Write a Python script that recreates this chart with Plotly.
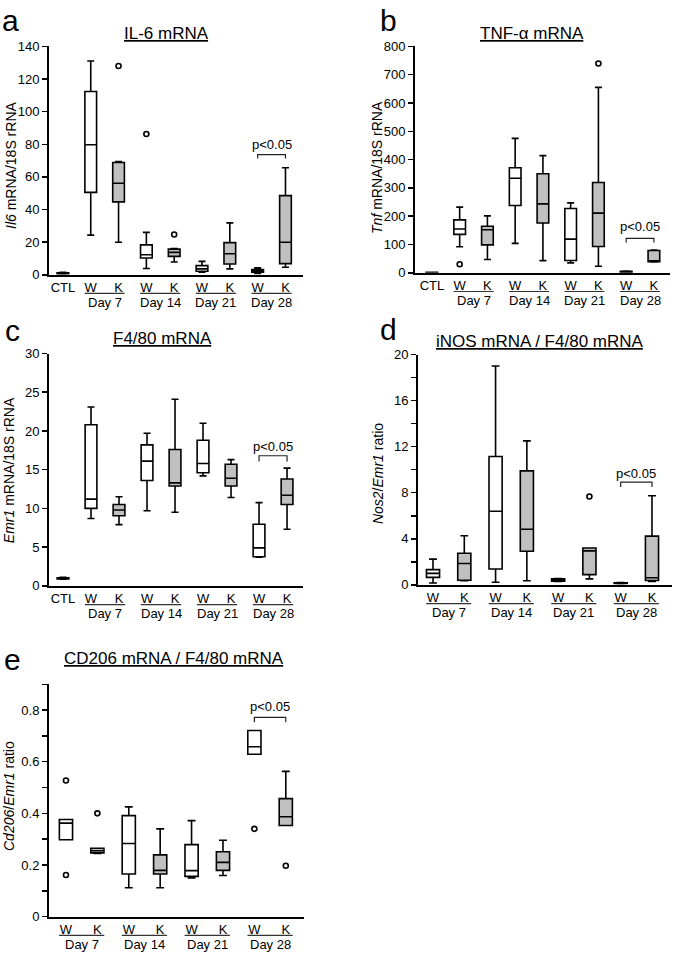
import plotly.graph_objects as go

FIG_W, FIG_H = 675, 963
FONT = "Liberation Sans, Arial, sans-serif"
GRAY = "#c0c0c0"

# ---------------- data ----------------
labels9 = ["CTL", "W", "K", "W", "K", "W", "K", "W", "K"]
labels8 = ["W", "K", "W", "K", "W", "K", "W", "K"]
days = ["Day 7", "Day 14", "Day 21", "Day 28"]

# Panel a: IL-6 mRNA (CTL, W7, K7, W14, K14, W21, K21, W28, K28)
a_lf = [0.5, 24.3, 19.9, 3.8, 7.8, 1.6, 3.6, 0.8, 4.6]
a_q1 = [0.7, 50.5, 44.7, 10.3, 11.3, 2.2, 6.6, 1.6, 6.8]
a_med = [1.0, 79.7, 56.1, 12.3, 13.7, 3.6, 12.9, 2.4, 19.9]
a_q3 = [1.2, 112.3, 68.8, 18.3, 15.7, 5.6, 19.7, 3.2, 48.5]
a_uf = [1.5, 131.0, 69.4, 26.0, 16.0, 8.2, 31.8, 4.2, 65.6]
a_out_idx = [2, 3, 4]
a_out_val = [128.0, 86.3, 24.7]

# Panel b: TNF-alpha mRNA
b_lf = [0, 92.0, 47.0, 104.0, 43.0, 35.0, 23.0, 1.0, 38.0]
b_q1 = [0.5, 135.7, 98.6, 237.7, 176.0, 43.5, 92.8, 2.0, 39.0]
b_med = [1.0, 155.0, 152.0, 334.0, 243.5, 119.0, 211.0, 3.0, 40.5]
b_q3 = [1.5, 187.0, 164.6, 371.0, 350.0, 227.0, 318.8, 5.0, 79.0]
b_uf = [2.0, 232.0, 201.0, 475.0, 414.0, 247.0, 655.0, 6.0, 80.0]
b_out_idx = [1, 6]
b_out_val = [30.0, 739.7]

# Panel c: F4/80 mRNA
c_lf = [0.85, 8.7, 7.9, 9.7, 9.5, 14.2, 11.4, 3.7, 7.3]
c_q1 = [0.9, 10.0, 9.05, 13.6, 12.9, 14.6, 12.9, 3.75, 10.5]
c_med = [1.0, 11.2, 9.8, 16.1, 13.3, 15.8, 13.9, 4.9, 11.7]
c_q3 = [1.05, 20.8, 10.5, 18.2, 17.6, 18.8, 15.7, 7.95, 13.8]
c_uf = [1.1, 23.1, 11.5, 19.7, 24.1, 21.0, 16.3, 10.75, 15.2]
c_out_idx = []
c_out_val = []

# Panel d: iNOS mRNA / F4/80 mRNA (W7, K7, W14, K14, W21, K21, W28, K28)
d_lf = [0.16, 0.36, 0.22, 0.36, 0.30, 0.52, 0.10, 0.30]
d_q1 = [0.65, 0.40, 1.38, 2.92, 0.32, 0.89, 0.12, 0.38]
d_med = [1.0, 1.86, 6.39, 4.83, 0.42, 2.95, 0.15, 0.62]
d_q3 = [1.32, 2.75, 11.14, 9.9, 0.52, 3.2, 0.17, 4.23]
d_uf = [2.23, 4.26, 19.0, 12.5, 0.54, 3.2, 0.2, 7.73]
d_out_idx = [5]
d_out_val = [7.67]

# Panel e: CD206 mRNA / F4/80 mRNA
e_lf = [0.298, 0.245, 0.112, 0.112, 0.150, 0.159, 0.629, 0.353]
e_q1 = [0.298, 0.247, 0.165, 0.165, 0.156, 0.179, 0.629, 0.353]
e_med = [0.362, 0.255, 0.283, 0.179, 0.178, 0.210, 0.658, 0.387]
e_q3 = [0.376, 0.265, 0.391, 0.239, 0.279, 0.251, 0.721, 0.457]
e_uf = [0.376, 0.265, 0.425, 0.340, 0.372, 0.296, 0.721, 0.5625]
e_out_idx = [0, 0, 1, 6, 7]
e_out_val = [0.527, 0.161, 0.400, 0.340, 0.197]

# significance brackets (bar level, tip level, text level)
sig_a = [73.6, 71.2, 80.0]
sig_b = [121.7, 106.7, 162.0]
sig_c = [16.8, 16.05, 18.05]
sig_d = [8.92, 8.5, 9.7]
sig_e = [0.772, 0.753, 0.814]

# ---------------- layout config (pixels) ----------------
panels = [
    dict(key="", letter="a", title="IL-6 mRNA", ytitle="<i>Il6</i> mRNA/18S rRNA",
         xpx=(49, 303), ypx=(40, 272), xr=(-0.5, 8.63), yr=(0, 140), dtick=20, minor=None,
         labels=labels9, stats=(a_lf, a_q1, a_med, a_q3, a_uf), out=(a_out_idx, a_out_val), sig=sig_a,
         letter_xy=(11, 14), title_xy=(166, 27), ytitle_xy=(11.5, 161)),
    dict(key="2", letter="b", title="TNF-α mRNA", ytitle="<i>Tnf</i> mRNA/18S rRNA",
         xpx=(415, 670), ypx=(40, 270), xr=(-0.61, 8.58), yr=(0, 800), dtick=100, minor=None,
         labels=labels9, stats=(b_lf, b_q1, b_med, b_q3, b_uf), out=(b_out_idx, b_out_val), sig=sig_b,
         letter_xy=(388, 14), title_xy=(532, 27), ytitle_xy=(377.5, 163)),
    dict(key="3", letter="c", title="F4/80 mRNA", ytitle="<i>Emr1</i> mRNA/18S rRNA",
         xpx=(49, 303), ypx=(352, 588), xr=(-0.5, 8.57), yr=(0, 30), dtick=5, minor=None,
         labels=labels9, stats=(c_lf, c_q1, c_med, c_q3, c_uf), out=(c_out_idx, c_out_val), sig=sig_c,
         letter_xy=(12, 329), title_xy=(162, 337), ytitle_xy=(8.5, 471)),
    dict(key="4", letter="d", title="iNOS mRNA / F4/80 mRNA", ytitle="<i>Nos2</i>/<i>Emr1</i> ratio",
         xpx=(418, 672), ypx=(353, 587), xr=(-0.48, 7.64), yr=(0, 20), dtick=4, minor=2,
         labels=labels8, stats=(d_lf, d_q1, d_med, d_q3, d_uf), out=(d_out_idx, d_out_val), sig=sig_d,
         letter_xy=(388, 328), title_xy=(540, 340), ytitle_xy=(377.5, 474)),
    dict(key="5", letter="e", title="CD206 mRNA / F4/80 mRNA", ytitle="<i>Cd206</i>/<i>Emr1</i> ratio",
         xpx=(49, 304), ypx=(688, 924), xr=(-0.54, 7.58), yr=(0, 0.9), dtick=0.2, minor=0.1,
         labels=labels8, stats=(e_lf, e_q1, e_med, e_q3, e_uf), out=(e_out_idx, e_out_val), sig=sig_e,
         letter_xy=(12, 663), title_xy=(174, 662), ytitle_xy=(8.5, 802)),
]


def px_x(x):
    return x / FIG_W


def px_y(y):
    return 1 - y / FIG_H


fig = go.Figure()
annotations = []
shapes = []
layout_axes = {}

for p in panels:
    k = p["key"]
    xa, ya = "x" + k, "y" + k
    lf, q1, med, q3, uf = p["stats"]
    n = len(lf)
    pos = list(range(n))
    labels = p["labels"]
    white_idx = [i for i in pos if labels[i] in ("W", "CTL")]
    gray_idx = [i for i in pos if labels[i] == "K"]
    for idx, col in ((white_idx, "white"), (gray_idx, GRAY)):
        fig.add_trace(go.Box(
            x=[pos[i] for i in idx],
            lowerfence=[lf[i] for i in idx], q1=[q1[i] for i in idx],
            median=[med[i] for i in idx], q3=[q3[i] for i in idx],
            upperfence=[uf[i] for i in idx],
            fillcolor=col, line=dict(color="black", width=1.6),
            width=0.42, whiskerwidth=0.6, boxpoints=False,
            xaxis=xa, yaxis=ya, showlegend=False, hoverinfo="skip"))
    oi, ov = p["out"]
    if oi:
        fig.add_trace(go.Scatter(
            x=[pos[i] for i in oi], y=ov, mode="markers",
            marker=dict(symbol="circle-open", size=5, color="black", line=dict(width=1.6)),
            xaxis=xa, yaxis=ya, showlegend=False, hoverinfo="skip"))

    # axes
    xname = "xaxis" + k
    yname = "yaxis" + k
    layout_axes[xname] = dict(
        domain=[px_x(p["xpx"][0]), px_x(p["xpx"][1])], range=list(p["xr"]),
        anchor=ya, showline=True, linecolor="black", linewidth=2,
        tickvals=pos, ticktext=labels, ticks="", showgrid=False, zeroline=False,
        tickfont=dict(size=13, color="black", family=FONT), fixedrange=True)
    yax = dict(
        domain=[px_y(p["ypx"][1]), px_y(p["ypx"][0])], range=list(p["yr"]),
        anchor=xa, showline=True, linecolor="black", linewidth=2,
        ticks="outside", ticklen=5, tickwidth=1.5, tickcolor="black",
        dtick=p["dtick"], tick0=0, showgrid=False, zeroline=False,
        tickfont=dict(size=13, color="black", family=FONT), fixedrange=True)
    if p["minor"]:
        yax["minor"] = dict(dtick=p["minor"], ticks="outside", ticklen=5,
                            tickwidth=1.5, tickcolor="black", showgrid=False)
    layout_axes[yname] = yax

    # group labels ("Day N") with underline
    ybot = p["ypx"][1]
    first = 1 if labels[0] == "CTL" else 0
    for j, day in enumerate(days):
        wpos = first + 2 * j
        kpos = wpos + 1
        annotations.append(dict(
            x=(wpos + kpos) / 2, y=px_y(ybot + 28.5), xref=xa, yref="paper",
            text=day, showarrow=False, xanchor="center", yanchor="middle",
            font=dict(size=13, color="black", family=FONT)))
        shapes.append(dict(
            type="line", xref=xa, yref="paper", x0=wpos - 0.22, x1=kpos + 0.22,
            y0=px_y(ybot + 19), y1=px_y(ybot + 19), line=dict(color="#333333", width=1.2)))

    # significance bracket between last W and last K
    bar, tip, txt = p["sig"]
    w28, k28 = n - 2, n - 1
    shapes.append(dict(
        type="path", xref=xa, yref=ya,
        path=f"M {w28} {tip} L {w28} {bar} L {k28} {bar} L {k28} {tip}",
        line=dict(color="#222222", width=1.2)))
    annotations.append(dict(
        x=(w28 + k28) / 2, y=txt, xref=xa, yref=ya, text="p<0.05", showarrow=False,
        xanchor="center", yanchor="middle", font=dict(size=13, color="black", family=FONT)))

    # panel letter, title, y-axis title
    lx, ly = p["letter_xy"]
    annotations.append(dict(
        x=px_x(lx), y=px_y(ly), xref="paper", yref="paper", text=p["letter"],
        showarrow=False, xanchor="center", yanchor="middle",
        font=dict(size=30, color="black", family=FONT)))
    tx, ty = p["title_xy"]
    annotations.append(dict(
        x=px_x(tx), y=px_y(ty), xref="paper", yref="paper", text="<u>" + p["title"] + "</u>",
        showarrow=False, xanchor="center", yanchor="middle",
        font=dict(size=17, color="black", family=FONT)))
    yx, yy = p["ytitle_xy"]
    annotations.append(dict(
        x=px_x(yx), y=px_y(yy), xref="paper", yref="paper", text=p["ytitle"],
        showarrow=False, xanchor="center", yanchor="middle", textangle=-90,
        font=dict(size=14, color="black", family=FONT)))

fig.update_layout(
    width=FIG_W, height=FIG_H, margin=dict(l=0, r=0, t=0, b=0),
    paper_bgcolor="white", plot_bgcolor="white", boxmode="overlay",
    font=dict(family=FONT, color="black"),
    annotations=annotations, shapes=shapes, showlegend=False, **layout_axes)

fig.write_html("out.html", config={"displayModeBar": False, "staticPlot": True},
               post_script="document.body.style.margin='0';")
